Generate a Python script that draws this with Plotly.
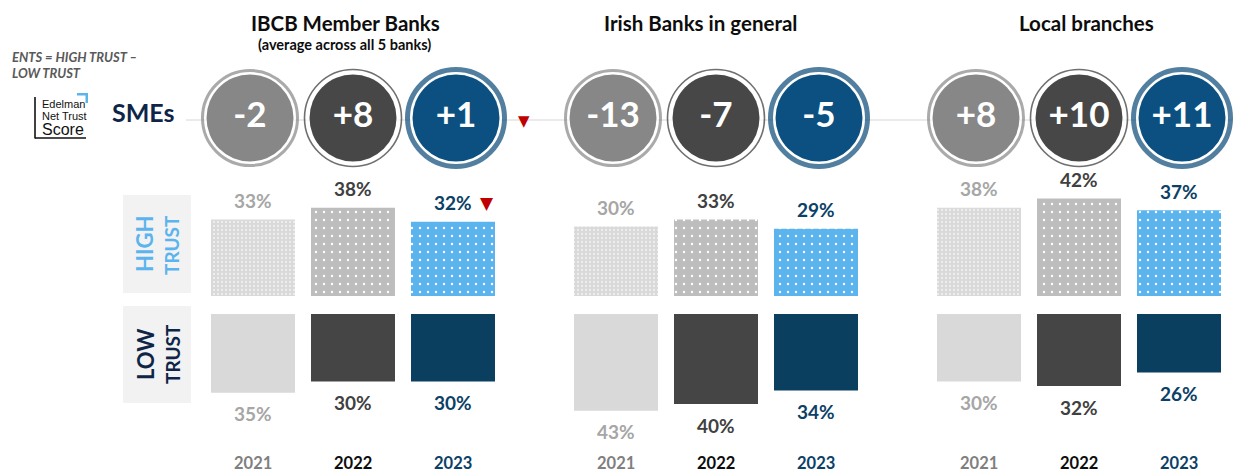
import plotly.graph_objects as go

# ---- data -------------------------------------------------------------
groups = ["IBCB Member Banks", "Irish Banks in general", "Local branches"]
group_notes = ["(average across all 5 banks)", "", ""]
years = ["2021", "2022", "2023"]

high_ibcb = [33, 38, 32]
high_irish = [30, 33, 29]
high_local = [38, 42, 37]

low_ibcb = [35, 30, 30]
low_irish = [43, 40, 34]
low_local = [30, 32, 26]

nts_ibcb = [-2, 8, 1]
nts_irish = [-13, -7, -5]
nts_local = [8, 10, 11]

# significant decline markers
high_drop = [[False, False, True], [False, False, False], [False, False, False]]
nts_drop = [[False, False, True], [False, False, False], [False, False, False]]

high_trust = [high_ibcb, high_irish, high_local]
low_trust = [low_ibcb, low_irish, low_local]
nts = [nts_ibcb, nts_irish, nts_local]

# ---- styling ----------------------------------------------------------
W, H = 1233, 472
FONT = "Lato"
NAVY = "#0f2548"
year_text = ["#7f7f7f", "#0d0d0d", "#0b4166"]
label_text = ["#a6a6a6", "#404040", "#0b4166"]
high_bg = ["#d9d9d9", "#bdbdbd", "#5cb4ee"]
high_fg = ["#efefef", "#ffffff", "#ffffff"]
high_dot = [(4, 0.25), (8, 0.07), (8, 0.07)]
low_fill = ["#d9d9d9", "#454545", "#0b3f60"]
disc_fill = ["#878787", "#474747", "#0b5080"]
ring_col = ["#878787", "#333333", "#0a4a78"]
ring_w = [3, 1.6, 5]
ring_size = [95, 97, 97]

GROUP_STEP = 3.63
BAR_W = 0.84
CIRCLE_STEP = 1.03
CIRCLE_Y = 118
TITLE_DX = [-0.08, -0.16, 0.07]


def px(x):
    return x / W


def py(y):
    return 1 - y / H


def bar_x(g, j):
    return g * GROUP_STEP + j


def circle_x(g, j):
    return g * GROUP_STEP + 1 + (j - 1) * CIRCLE_STEP


fig = go.Figure()
annotations = []
shapes = []


def note(**kw):
    kw.setdefault("showarrow", False)
    kw.setdefault("xanchor", "center")
    kw.setdefault("yanchor", "middle")
    annotations.append(kw)


# connector line behind the score circles
shapes.append(dict(type="line", xref="paper", yref="y3", x0=px(186), x1=1,
                   y0=CIRCLE_Y + 2, y1=CIRCLE_Y + 2,
                   line=dict(color="#d6d6d6", width=1), layer="below"))

for g, name in enumerate(groups):
    xs = [bar_x(g, j) for j in range(3)]

    # high trust bars (patterned, growing up)
    for j in range(3):
        size, sol = high_dot[j]
        fig.add_trace(go.Bar(
            x=[xs[j]], y=[high_trust[g][j]], width=BAR_W,
            xaxis="x", yaxis="y",
            marker=dict(color=high_bg[j], line=dict(width=0),
                        pattern=dict(shape=".", bgcolor=high_bg[j],
                                     fgcolor=high_fg[j], size=size,
                                     solidity=sol, fillmode="replace")),
            showlegend=False, hoverinfo="skip"))
        note(x=xs[j], y=high_trust[g][j], xref="x", yref="y", yshift=19,
             text=f"<b>{high_trust[g][j]}%</b>",
             font=dict(family=FONT, size=19, color=label_text[j]))
        if high_drop[g][j]:
            note(x=xs[j], y=high_trust[g][j], xref="x", yref="y",
                 xshift=34, yshift=19, text="▼",
                 font=dict(family="DejaVu Sans", size=17, color="#c00000"))

    # low trust bars (solid, growing down)
    fig.add_trace(go.Bar(
        x=xs, y=low_trust[g], width=BAR_W, xaxis="x", yaxis="y2",
        marker=dict(color=low_fill, line=dict(width=0)),
        showlegend=False, hoverinfo="skip"))
    for j in range(3):
        note(x=xs[j], y=low_trust[g][j], xref="x", yref="y2", yshift=-21,
             text=f"<b>{low_trust[g][j]}%</b>",
             font=dict(family=FONT, size=19, color=label_text[j]))
        note(x=xs[j], y=py(463), xref="x", yref="paper",
             text=f"<b>{years[j]}</b>",
             font=dict(family=FONT, size=16.5, color=year_text[j]))

    # net trust score circles: outer ring, then filled disc with value
    cx = [circle_x(g, j) for j in range(3)]
    fig.add_trace(go.Scatter(
        x=cx, y=[CIRCLE_Y] * 3, xaxis="x", yaxis="y3", mode="markers",
        marker=dict(size=ring_size, color="#ffffff",
                    line=dict(color=ring_col, width=ring_w)),
        showlegend=False, hoverinfo="skip"))
    fig.add_trace(go.Scatter(
        x=cx, y=[CIRCLE_Y] * 3, xaxis="x", yaxis="y3", mode="markers+text",
        marker=dict(size=87, color=disc_fill, line=dict(width=0)),
        text=[f"<b>{v:+d}</b>" for v in nts[g]], textposition="middle center",
        textfont=dict(family=FONT, size=35, color="#ffffff"),
        showlegend=False, hoverinfo="skip"))
    for j in range(3):
        if nts_drop[g][j]:
            note(x=cx[j], y=CIRCLE_Y, xref="x", yref="y3", xshift=68,
                 yshift=-3, text="▼",
                 font=dict(family="DejaVu Sans", size=15, color="#c00000"))

    # group headings
    note(x=g * GROUP_STEP + 1 + TITLE_DX[g], y=py(23), xref="x",
         yref="paper", text=f"<b>{name}</b>",
         font=dict(family=FONT, size=20.5, color="#0d0d0d"))
    if group_notes[g]:
        note(x=g * GROUP_STEP + 1 - 0.09, y=py(45), xref="x", yref="paper",
             text=f"<b>{group_notes[g]}</b>",
             font=dict(family=FONT, size=14.5, color="#0d0d0d"))

# trust row labels
shapes.append(dict(type="rect", xref="paper", yref="paper",
                   x0=px(123), x1=px(191), y0=py(293), y1=py(195),
                   fillcolor="#f2f2f2", line=dict(width=0), layer="below"))
shapes.append(dict(type="rect", xref="paper", yref="paper",
                   x0=px(123), x1=px(191), y0=py(403), y1=py(306),
                   fillcolor="#f2f2f2", line=dict(width=0), layer="below"))
for text, x, y, size, col in [("HIGH", 145, 244, 22, "#5cb4ee"),
                              ("TRUST", 172, 245, 19, "#5cb4ee"),
                              ("LOW", 145, 355, 22, NAVY),
                              ("TRUST", 172, 354, 19, NAVY)]:
    note(x=px(x), y=py(y), xref="paper", yref="paper",
         text=f"<b>{text}</b>", textangle=-90,
         font=dict(family=FONT, size=size, color=col))

# side captions
note(x=px(10), y=py(57), xref="paper", yref="paper", xanchor="left",
     text="<b><i>ENTS = HIGH TRUST –</i></b>",
     font=dict(family=FONT, size=13, color="#595959"))
note(x=px(10), y=py(73), xref="paper", yref="paper", xanchor="left",
     text="<b><i>LOW TRUST</i></b>",
     font=dict(family=FONT, size=13, color="#595959"))
note(x=px(110), y=py(112), xref="paper", yref="paper", xanchor="left",
     text="<b>SMEs</b>", font=dict(family=FONT, size=25, color=NAVY))

# score badge
shapes += [
    dict(type="line", xref="paper", yref="paper", x0=px(35), x1=px(35),
         y0=py(97), y1=py(138.5), line=dict(color="#111111", width=1.6)),
    dict(type="line", xref="paper", yref="paper", x0=px(35), x1=px(86),
         y0=py(138), y1=py(138), line=dict(color="#111111", width=1.6)),
    dict(type="path", xref="paper", yref="paper",
         path=(f"M {px(77)},{py(93)} L {px(88)},{py(93)} L {px(88)},{py(103)} "
               f"L {px(85.5)},{py(103)} L {px(85.5)},{py(95.5)} L {px(77)},{py(95.5)} Z"),
         fillcolor="#5cb4ee", line=dict(width=0)),
]
for text, y, size in [("Edelman", 104, 11), ("Net Trust", 116, 11),
                      ("Score", 129, 16)]:
    note(x=px(40), y=py(y), xref="paper", yref="paper", xanchor="left",
         text=text, font=dict(family="Liberation Sans", size=size,
                              color="#111111"))

fig.update_layout(
    width=W, height=H,
    margin=dict(l=0, r=0, t=0, b=0),
    paper_bgcolor="#ffffff", plot_bgcolor="rgba(0,0,0,0)",
    barmode="overlay", showlegend=False,
    xaxis=dict(domain=[0, 1], range=[-2.53, (W - 253) / 100],
               visible=False, fixedrange=True, anchor="y"),
    yaxis=dict(domain=[py(296), 1], range=[0, 296 / 2.32],
               visible=False, fixedrange=True, anchor="x"),
    yaxis2=dict(domain=[0, py(314)], range=[(H - 314) / 2.25, 0],
                visible=False, fixedrange=True, anchor="x"),
    yaxis3=dict(domain=[0, 1], range=[H, 0],
                visible=False, fixedrange=True, anchor="x"),
    annotations=annotations,
    shapes=shapes,
)

fig.write_html("out.html")
